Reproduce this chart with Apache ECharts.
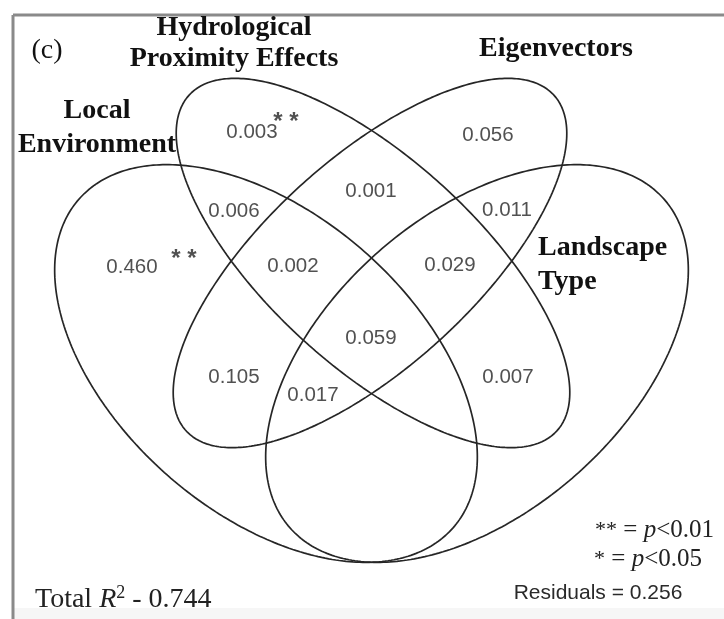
<!DOCTYPE html>
<html>
<head>
<meta charset="utf-8">
<script src="https://cdn.jsdelivr.net/npm/echarts@6/dist/echarts.min.js"></script>
<style>
html,body{margin:0;padding:0;background:#fff;}
#chart{width:724px;height:619px;}
</style>
</head>
<body>
<div id="chart"></div>
<script>
// ---- data ----
const setNames = ['Local\nEnvironment', 'Hydrological\nProximity Effects', 'Eigenvectors', 'Landscape\nType'];
// unique / shared fractions of variance explained
const regionNames = ['H only', 'E only', 'L∩H', 'H∩E', 'E∩T', 'L only', 'L∩H∩E', 'H∩E∩T', 'L∩H∩E∩T', 'L∩E', 'L∩E∩T', 'H∩T'];
const regionValues = [0.003, 0.056, 0.006, 0.001, 0.011, 0.460, 0.002, 0.029, 0.059, 0.105, 0.017, 0.007];
const regionSig = ['**', '', '', '', '', '**', '', '', '', '', '', ''];
const totalR2 = 0.744;
const residuals = 0.256;
const legendSymbols = ['**', '*'];
const legendThresholds = ['0.01', '0.05'];

// ---- layout (pixel-space geometry of the diagram) ----
const ellipses = [
  {cx: 266, cy: 363.5, a: 249, b: 149, rot: 41.3},   // Local Environment
  {cx: 373, cy: 263, a: 249, b: 104, rot: 42.4},     // Hydrological
  {cx: 370, cy: 263, a: 249, b: 104, rot: -42.4},    // Eigenvectors
  {cx: 477, cy: 363.5, a: 249, b: 149, rot: -41.3}   // Landscape Type
];
const regionPos = [[252,132],[488,135],[234,211],[371,191],[507,210],[132,267],[293,266],[450,265],[371,338],[234,377],[313,395],[508,377]];
const sigPos = [[286,122],[184,259]];

function ellipsePoints(e) {
  const pts = [];
  const th = e.rot * Math.PI / 180;
  const n = 360;
  for (let i = 0; i <= n; i++) {
    const t = i / n * 2 * Math.PI;
    const u = e.a * Math.cos(t), v = e.b * Math.sin(t);
    pts.push([e.cx + u * Math.cos(th) - v * Math.sin(th), e.cy + u * Math.sin(th) + v * Math.cos(th)]);
  }
  return pts;
}

const chart = echarts.init(document.getElementById('chart'), null, {renderer: 'canvas'});

const series = ellipses.map((e, i) => ({
  type: 'line', name: setNames[i], data: ellipsePoints(e), showSymbol: false, symbol: 'none',
  smooth: false, silent: true, animation: false,
  lineStyle: {color: '#262626', width: 1.7}
}));

series.push({
  type: 'scatter', silent: true, animation: false, symbolSize: 1,
  itemStyle: {color: 'rgba(0,0,0,0)'},
  data: regionValues.map((v, i) => ({name: regionNames[i], value: [regionPos[i][0], regionPos[i][1], v]})),
  label: {show: true, position: 'inside', formatter: p => p.value[2].toFixed(3),
    fontFamily: '"Liberation Sans", Arial, sans-serif', fontSize: 20.5, color: '#262626'}
});

const sigData = [];
let k = 0;
regionSig.forEach((s, i) => { if (s) { sigData.push({value: [sigPos[k][0], sigPos[k][1]], sig: s}); k++; } });
series.push({
  type: 'scatter', silent: true, animation: false, symbolSize: 1,
  itemStyle: {color: 'rgba(0,0,0,0)'},
  data: sigData.map(d => ({value: d.value, label: {formatter: d.sig.split('').join(' ')}})),
  label: {show: true, position: 'inside', fontFamily: '"Liberation Sans", Arial, sans-serif', fontSize: 24, fontWeight: 'bold', color: '#262626'}
});

const serifBold = 'bold 28px "Liberation Serif", "Times New Roman", serif';
function titleText(txt, x, y, align) {
  return {type: 'text', x: x, y: y, silent: true,
    style: {text: txt, font: serifBold, fill: '#111', textAlign: align || 'center', textVerticalAlign: 'middle', verticalAlign: 'middle'}};
}
function legendText(sym, thr, x, y) {
  return {type: 'text', x: x, y: y, silent: true,
    style: {
      text: '{s|' + sym + '} = {i|p}<' + thr,
      font: '25px "Liberation Serif", "Times New Roman", serif', fill: '#222',
      textAlign: 'right', textVerticalAlign: 'middle', verticalAlign: 'middle',
      rich: {
        s: {font: '22px "Liberation Serif", "Times New Roman", serif', fill: '#222', color: '#222'},
        i: {font: 'italic 25px "Liberation Serif", "Times New Roman", serif', fill: '#222', color: '#222'}
      }
    }};
}

const graphic = [
  {type: 'rect', shape: {x: 14, y: 608, width: 710, height: 11}, style: {fill: '#f6f6f6'}, silent: true},
  {type: 'line', shape: {x1: 13, y1: 15, x2: 724, y2: 15}, style: {stroke: '#8a8a8a', lineWidth: 3}, silent: true},
  {type: 'line', shape: {x1: 13, y1: 15, x2: 13, y2: 619}, style: {stroke: '#8a8a8a', lineWidth: 3}, silent: true},
  {type: 'text', x: 47, y: 51, silent: true,
    style: {text: '(c)', font: '28px "Liberation Serif", "Times New Roman", serif', fill: '#111', textAlign: 'center', textVerticalAlign: 'middle', verticalAlign: 'middle'}},
  titleText('Hydrological', 234, 28),
  titleText('Proximity Effects', 234, 59),
  titleText('Local', 97, 111),
  titleText('Environment', 97, 145),
  titleText('Eigenvectors', 556, 49),
  titleText('Landscape', 538, 248, 'left'),
  titleText('Type', 538, 282, 'left'),
  {type: 'text', x: 35, y: 600, silent: true,
    style: {
      text: '{a|Total }{i|R}{s|2}{a| - ' + totalR2.toFixed(3) + '}',
      textAlign: 'left', textVerticalAlign: 'middle', verticalAlign: 'middle',
      rich: {
        a: {font: '28px "Liberation Serif", "Times New Roman", serif', fill: '#222', color: '#222', lineHeight: 32},
        i: {font: 'italic 28px "Liberation Serif", "Times New Roman", serif', fill: '#222', color: '#222', lineHeight: 32},
        s: {font: '18px "Liberation Serif", "Times New Roman", serif', fill: '#222', color: '#222', lineHeight: 16, verticalAlign: 'top'}
      }
    }},
  legendText(legendSymbols[0], legendThresholds[0], 714, 530),
  legendText(legendSymbols[1], legendThresholds[1], 702, 559),
  {type: 'text', x: 598, y: 593, silent: true,
    style: {text: 'Residuals = ' + residuals.toFixed(3), font: '21px "Liberation Sans", Arial, sans-serif', fill: '#2a2a2a',
      textAlign: 'center', textVerticalAlign: 'middle', verticalAlign: 'middle'}}
];

chart.setOption({
  animation: false,
  backgroundColor: '#ffffff',
  grid: {left: 0, right: 0, top: 0, bottom: 0},
  xAxis: {type: 'value', min: 0, max: 724, show: false},
  yAxis: {type: 'value', min: 0, max: 619, inverse: true, show: false},
  series: series,
  graphic: graphic
});
</script>
</body>
</html>
